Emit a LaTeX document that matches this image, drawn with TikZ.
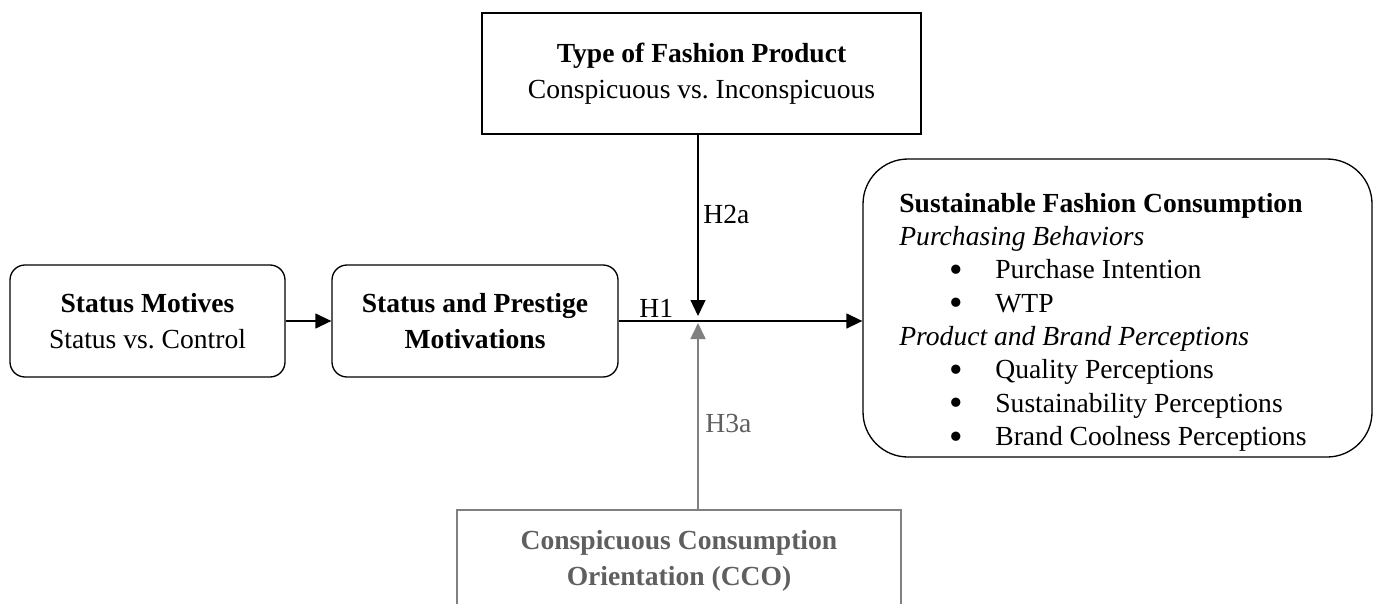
\documentclass[tikz,border=0pt]{standalone}
\usepackage{fontspec}
\setmainfont{Liberation Serif}
\usetikzlibrary{positioning, shapes, arrows.meta, calc}
\definecolor{mygrayline}{RGB}{128,128,128}
\definecolor{mygraytext}{RGB}{95,95,95}
\tikzset{
  roundbox/.style={draw, line width=0.75pt, rounded corners=0.3cm, align=center,
    inner sep=0, font=\fontsize{15.7}{20.4}\selectfont},
  plainbox/.style={draw, line width=0.75pt, align=center,
    inner sep=0, font=\fontsize{15.7}{20.4}\selectfont},
  graybox/.style={draw=mygrayline, text=mygraytext, line width=0.9pt, align=center,
    inner xsep=0, inner ysep=0.42cm, font=\fontsize{15.7}{20.4}\selectfont},
  hyplabel/.style={inner sep=0, anchor=base west, font=\fontsize{15.7}{20.4}\selectfont}
}
\newcommand{\bulletitem}[1]{\makebox[1.92cm][l]{\hspace{1.0cm}\smash{\raisebox{-0.07cm}{\scalebox{1.4}{\textbullet}}}}#1}
\frenchspacing

\begin{document}
\begin{tikzpicture}[>={Triangle[length=3.2mm,width=3mm]}]

\useasboundingbox (0,0) rectangle (27.58,-12.06);
\clip (0,0) rectangle (27.58,-12.06);

\node [roundbox, minimum width=5.5cm, minimum height=2.24cm] (motives) at (2.95,-6.42)
  {\textbf{Status Motives}\\Status vs. Control};
\node [roundbox, minimum width=5.72cm, minimum height=2.24cm] (prestige) at (9.5,-6.42)
  {\textbf{Status and Prestige}\\\textbf{Motivations}};
\node [plainbox, minimum width=8.78cm, minimum height=2.42cm] (product) at (14.03,-1.47)
  {\textbf{Type of Fashion Product}\\Conspicuous vs. Inconspicuous};
\node [roundbox, rounded corners=0.9cm, minimum width=10.18cm, minimum height=5.96cm] (outcome) at (22.35,-6.16) {};
\node [graybox, minimum width=8.88cm, anchor=north] (cco) at (13.58,-10.18)
  {\textbf{Conspicuous Consumption}\\\textbf{Orientation (CCO)}};

% text of the outcome box
\node [inner sep=0, anchor=base west, font=\fontsize{15.7}{19}\selectfont] (outcometext) at (17.98,-4.24)
  {\begin{tabular}[t]{@{}l@{}}
   \textbf{Sustainable Fashion Consumption}\\
   \textit{Purchasing Behaviors}\\
   \bulletitem{Purchase Intention}\\
   \bulletitem{WTP}\\
   \textit{Product and Brand Perceptions}\\
   \bulletitem{Quality Perceptions}\\
   \bulletitem{Sustainability Perceptions}\\
   \bulletitem{Brand Coolness Perceptions}
   \end{tabular}};

\coordinate (mtop) at (13.96,-6.32);
\coordinate (mbot) at (13.96,-6.46);

\draw[->, line width=0.75pt] (motives) -- (prestige);
\draw[->, line width=0.75pt] (prestige.east) -- (prestige.east -| outcome.west);
\draw[->, line width=0.75pt] (product.south -| mtop) -- (mtop);
\draw[->, line width=0.9pt, color=mygrayline] (cco.north -| mbot) -- (mbot);

\node [hyplabel] (h1) at (12.78,-6.34) {H1};
\node [hyplabel] (h2a) at (14.06,-4.46) {H2a};
\node [hyplabel, text=mygraytext] (h3a) at (14.1,-8.64) {H3a};

\end{tikzpicture}
\end{document}
